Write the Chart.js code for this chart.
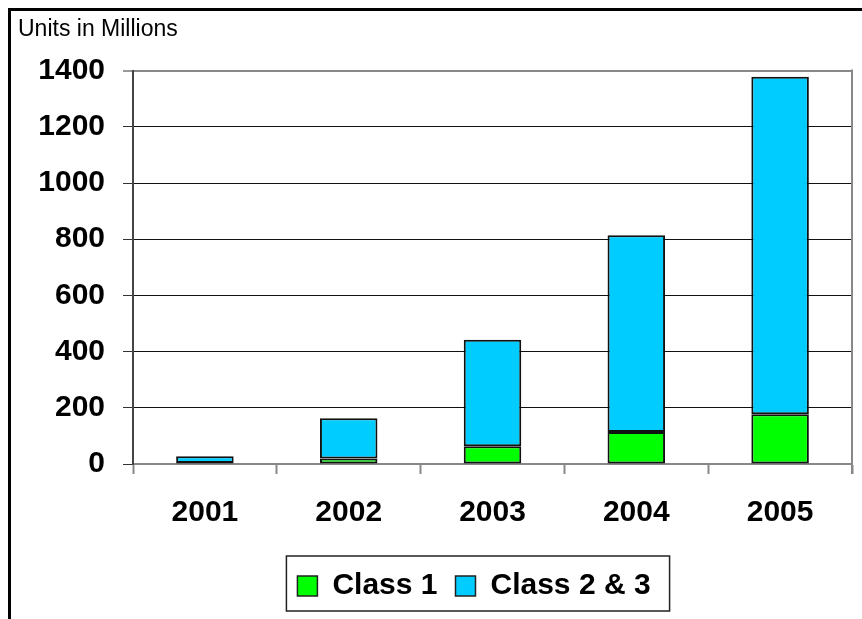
<!DOCTYPE html>
<html>
<head>
<meta charset="utf-8">
<title>Units in Millions</title>
<script src="https://cdn.jsdelivr.net/npm/chart.js@4.4.1/dist/chart.umd.min.js"></script>
<style>
  html, body { margin: 0; padding: 0; background: #fff; }
  canvas { display: block; }
</style>
</head>
<body>
<canvas id="unitsChart" width="862" height="619"></canvas>
<script>
// yearly shipments, stacked by class
const years = ['2001', '2002', '2003', '2004', '2005'];
const class1 = [4, 20, 63, 114, 177];
const class23 = [24, 143, 379, 700, 1201];
const yTicks = [0, 200, 400, 600, 800, 1000, 1200, 1400];

const FONT = '"Liberation Sans", Arial, sans-serif';
const LEGEND_SHIFT = 39; // legend row sits right of centre

// outer frame, right edge of plot and the box round the legend
const framePlugin = {
  id: 'frame',
  afterLayout(chart) {
    chart.legend.left += LEGEND_SHIFT;
    chart.legend.right += LEGEND_SHIFT;
  },
  afterDraw(chart) {
    const ctx = chart.ctx;
    const area = chart.chartArea;
    ctx.save();
    ctx.strokeStyle = '#000';
    ctx.lineWidth = 3;
    ctx.strokeRect(9.5, 9.5, chart.width + 20, chart.height + 20);

    ctx.strokeStyle = '#888';
    ctx.lineWidth = 2;
    ctx.beginPath();
    ctx.moveTo(area.right, area.top - 1);
    ctx.lineTo(area.right, area.bottom + 10);
    ctx.stroke();

    const boxes = chart.legend.legendHitBoxes;
    if (boxes && boxes.length) {
      const first = boxes[0];
      const last = boxes[boxes.length - 1];
      ctx.strokeStyle = '#222';
      ctx.lineWidth = 1.5;
      ctx.strokeRect(first.left - 11, first.top - 15,
        last.left + last.width + 19 - (first.left - 11), first.height + 25);
    }
    ctx.restore();
  }
};

new Chart(document.getElementById('unitsChart'), {
  type: 'bar',
  data: {
    labels: years,
    datasets: [
      {
        label: 'Class 1',
        data: class1,
        backgroundColor: '#00FF00',
        borderColor: '#111',
        borderWidth: 2,
        borderSkipped: false
      },
      {
        label: 'Class 2 & 3',
        data: class23,
        backgroundColor: '#00CCFF',
        borderColor: '#111',
        borderWidth: 2,
        borderSkipped: false
      }
    ]
  },
  options: {
    responsive: false,
    animation: false,
    events: [],
    layout: { padding: { left: 18, right: 10, top: 0, bottom: 8 } },
    datasets: { bar: { categoryPercentage: 1, barPercentage: 0.4 } },
    plugins: {
      title: {
        display: true,
        text: 'Units in Millions',
        align: 'start',
        color: '#000',
        font: { family: FONT, size: 23, weight: 'normal' },
        padding: { top: 16, bottom: 27 }
      },
      legend: {
        position: 'bottom',
        labels: {
          color: '#000',
          font: { family: FONT, size: 30, weight: 'bold' },
          boxWidth: 20,
          boxHeight: 20,
          padding: 18,
          generateLabels(chart) {
            const items = Chart.defaults.plugins.legend.labels.generateLabels(chart);
            items.forEach(it => { it.lineWidth = 1.5; it.strokeStyle = '#222'; });
            return items;
          }
        }
      },
      tooltip: { enabled: false }
    },
    scales: {
      x: {
        stacked: true,
        offset: true,
        afterFit(scale) { scale.height = 89; },
        grid: {
          offset: true,
          drawOnChartArea: false,
          drawTicks: true,
          tickLength: 10,
          tickColor: '#888',
          tickWidth: 2
        },
        border: { display: true, color: '#888', width: 2 },
        ticks: {
          color: '#000',
          padding: 21,
          font: { family: FONT, size: 30, weight: 'bold' }
        }
      },
      y: {
        stacked: true,
        min: 0,
        max: 1400,
        afterFit(scale) { scale.width = 133 - 18; },
        afterBuildTicks(scale) { scale.ticks = yTicks.map(v => ({ value: v })); },
        grid: {
          color: ctx => (ctx.tick && (ctx.tick.value === 1400 || ctx.tick.value === 0)) ? '#888' : '#111',
          lineWidth: ctx => (ctx.tick && ctx.tick.value === 1400) ? 2 : 1,
          tickLength: 10,
          tickColor: '#333',
          tickWidth: 1
        },
        border: { display: true, color: '#444', width: 2 },
        ticks: {
          color: '#000',
          padding: 18,
          callback: value => String(value),
          font: { family: FONT, size: 30, weight: 'bold' }
        }
      }
    }
  },
  plugins: [framePlugin]
});
</script>
</body>
</html>
